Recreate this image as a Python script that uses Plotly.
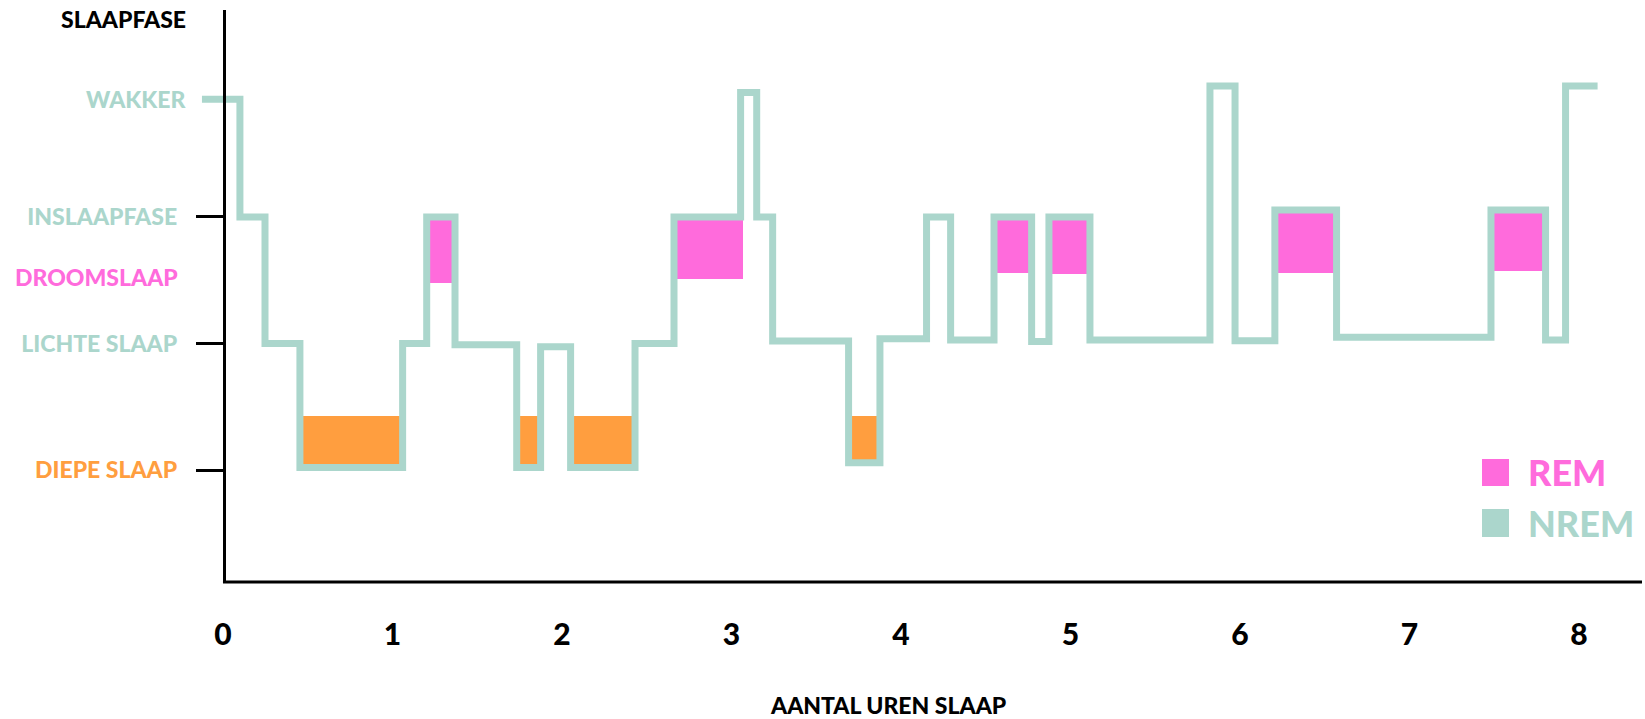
import plotly.graph_objects as go

# ---------------- data ----------------
# hypnogram: hour at which a stage starts, and the stage level reached there
step_hours = [-0.124, 0.100, 0.248, 0.454, 1.060, 1.202, 1.369, 1.733, 1.874, 2.051,
              2.431, 2.661, 3.054, 3.149, 3.243, 3.691, 3.876, 4.151, 4.293, 4.549,
              4.771, 4.873, 5.115, 5.823, 5.971, 6.206, 6.570, 7.481, 7.803, 7.921, 8.110]
step_levels = [3.93, 3.0, 2.0, 1.02, 2.0, 3.0, 1.99, 1.02, 1.975, 1.02,
               2.0, 3.0, 3.983, 3.0, 2.02, 1.058, 2.038, 3.0, 2.028, 3.0,
               2.015, 3.0, 2.028, 4.036, 2.022, 3.055, 2.049, 3.055, 2.028, 4.036, 4.036]

# deep sleep blocks (orange)
deep_start = [0.454, 1.733, 2.051, 3.691]
deep_end = [1.060, 1.874, 2.431, 3.876]
deep_bottom = [1.02, 1.02, 1.02, 1.058]
deep_top = [1.43, 1.43, 1.43, 1.43]

# REM / droomslaap blocks (pink)
rem_start = [1.202, 2.661, 4.549, 4.873, 6.206, 7.481]
rem_end = [1.369, 3.07, 4.771, 5.115, 6.570, 7.803]
rem_bottom = [2.476, 2.507, 2.555, 2.55, 2.555, 2.573]
rem_top = [3.0, 3.0, 3.0, 3.0, 3.055, 3.055]

x_ticks = [0, 1, 2, 3, 4, 5, 6, 7, 8]
stage_vals = [1, 2, 3]
stage_names = ["DIEPE SLAAP", "LICHTE SLAAP", "INSLAAPFASE"]
wakker_level = 3.93
droom_level = 2.526

TEAL = "#ABD6CC"
PINK = "#FF6BDC"
ORANGE = "#FF9E3F"
FONT = "Lato"

stage_colors = [ORANGE, TEAL, TEAL]

fig = go.Figure()

fig.add_trace(go.Bar(
    x=[(a + b) / 2 for a, b in zip(deep_start, deep_end)],
    width=[b - a for a, b in zip(deep_start, deep_end)],
    base=deep_bottom,
    y=[t - b for t, b in zip(deep_top, deep_bottom)],
    marker=dict(color=ORANGE, line=dict(width=0)),
    showlegend=False, hoverinfo="skip"))

fig.add_trace(go.Bar(
    x=[(a + b) / 2 for a, b in zip(rem_start, rem_end)],
    width=[b - a for a, b in zip(rem_start, rem_end)],
    base=rem_bottom,
    y=[t - b for t, b in zip(rem_top, rem_bottom)],
    marker=dict(color=PINK, line=dict(width=0)),
    showlegend=False, hoverinfo="skip"))

fig.add_trace(go.Scatter(
    x=step_hours, y=step_levels, mode="lines",
    line=dict(color=TEAL, width=7, shape="hv"),
    showlegend=False, hoverinfo="skip"))

XMIN, XMAX = -0.165, 8.372
YMIN, YMAX = 0.115, 4.636
L, R, T, B = 195, 3, 10, 137
PW = 1645 - L - R
PH = 719 - T - B

def px_x(px):
    return (px - L) / PW

def px_y(py):
    return (719 - B - py) / PH

fig.update_layout(
    width=1645, height=719,
    margin=dict(l=L, r=R, t=T, b=B, pad=0),
    paper_bgcolor="white", plot_bgcolor="white",
    barmode="overlay", bargap=0,
    showlegend=False,
    xaxis=dict(range=[XMIN, XMAX], showgrid=False, zeroline=False, showline=False,
               ticks="", tickvals=x_ticks, ticktext=[str(v) for v in x_ticks],
               tickfont=dict(family=FONT, size=30, color="black", weight=900),
               ticklabelstandoff=32),
    yaxis=dict(range=[YMIN, YMAX], showgrid=False, zeroline=False,
               anchor="free", position=px_x(223.5),
               showline=True, linecolor="black", linewidth=2.5,
               ticks="outside", ticklen=27, tickwidth=3, tickcolor="black",
               tickvals=stage_vals,
               ticktext=[f'<span style="color:{c}">{n}</span>' for n, c in zip(stage_names, stage_colors)],
               tickfont=dict(family=FONT, size=23, weight=900),
               ticklabelstandoff=14),
)

# x axis line from 0 to the right edge
fig.add_shape(type="line", xref="x", yref="paper", x0=0, x1=XMAX, y0=0, y1=0,
              line=dict(color="black", width=3), layer="above")

# extra stage labels without tick marks
fig.add_annotation(xref="paper", yref="y", x=px_x(189), y=wakker_level, xanchor="right", yanchor="middle",
                   text="WAKKER", showarrow=False,
                   font=dict(family=FONT, size=23, color=TEAL, weight=900))
fig.add_annotation(xref="paper", yref="y", x=px_x(180), y=droom_level, xanchor="right", yanchor="middle",
                   text="DROOMSLAAP", showarrow=False,
                   font=dict(family=FONT, size=23, color=PINK, weight=900))

# axis titles
fig.add_annotation(xref="paper", yref="paper", x=px_x(188), y=px_y(19), xanchor="right", yanchor="middle",
                   text="SLAAPFASE", showarrow=False,
                   font=dict(family=FONT, size=23, color="black", weight=900))
fig.add_annotation(xref="paper", yref="paper", x=px_x(888), y=px_y(705), xanchor="center", yanchor="middle",
                   text="AANTAL UREN SLAAP", showarrow=False,
                   font=dict(family=FONT, size=23, color="black", weight=900))

# legend (squares + labels)
fig.add_shape(type="rect", xref="paper", yref="paper", x0=px_x(1482), x1=px_x(1509),
              y0=px_y(486), y1=px_y(459), fillcolor=PINK, line=dict(width=0))
fig.add_shape(type="rect", xref="paper", yref="paper", x0=px_x(1482), x1=px_x(1509),
              y0=px_y(537), y1=px_y(509), fillcolor=TEAL, line=dict(width=0))
fig.add_annotation(xref="paper", yref="paper", x=px_x(1526), y=px_y(472), xanchor="left", yanchor="middle",
                   text="REM", showarrow=False,
                   font=dict(family=FONT, size=36, color=PINK, weight=900))
fig.add_annotation(xref="paper", yref="paper", x=px_x(1526), y=px_y(523), xanchor="left", yanchor="middle",
                   text="NREM", showarrow=False,
                   font=dict(family=FONT, size=36, color=TEAL, weight=900))

fig.write_html("out.html", config={"displayModeBar": False},
               post_script="document.body.style.margin='0';document.body.style.overflow='hidden';")
